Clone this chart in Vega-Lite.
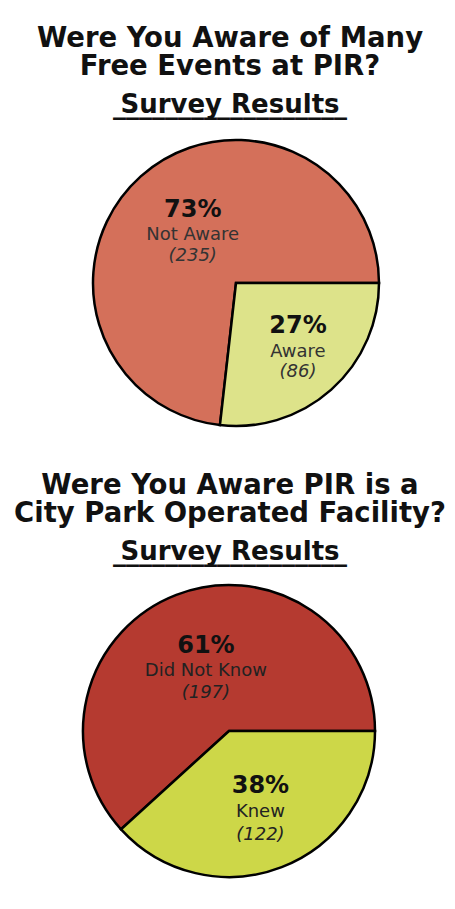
{
  "$schema": "https://vega.github.io/schema/vega-lite/v6.json",
  "padding": {"left": 14, "top": 25, "right": 0, "bottom": 0},
  "background": "white",
  "spacing": 39,
  "config": {
    "view": {"stroke": null},
    "title": {
      "font": "DejaVu Sans",
      "fontSize": 27.5,
      "fontWeight": "bold",
      "lineHeight": 27.5,
      "color": "#111",
      "anchor": "middle",
      "subtitleFont": "DejaVu Sans",
      "subtitleFontSize": 26,
      "subtitleFontWeight": "bold",
      "subtitleColor": "#111",
      "subtitleLineHeight": 1,
      "subtitlePadding": 12,
      "offset": 14
    },
    "text": {"font": "DejaVu Sans"}
  },
  "datasets": {
    "pie1": [
      {"answer": "Not Aware", "count": 235, "pct": "73%", "n": "(235)"},
      {"answer": "Aware", "count": 86, "pct": "27%", "n": "(86)"}
    ],
    "pie2": [
      {"answer": "Did Not Know", "count": 197, "pct": "61%", "n": "(197)"},
      {"answer": "Knew", "count": 122, "pct": "38%", "n": "(122)"}
    ]
  },
  "resolve": {"scale": {"color": "independent", "theta": "independent"}},
  "vconcat": [
    {
      "width": 432,
      "height": 300,
      "title": {
        "text": ["Were You Aware of Many", "Free Events at PIR?"],
        "subtitle": ["Survey Results", "__________________"],
        "dx": -6
      },
      "data": {"name": "pie1"},
      "encoding": {
        "theta": {"field": "count", "type": "quantitative", "stack": true, "scale": {"range": [1.5707963, 7.8539816]}},
        "order": {"field": "answer", "type": "ordinal", "sort": "ascending"},
        "detail": {"field": "answer", "type": "nominal"}
      },
      "layer": [
        {
          "mark": {"type": "arc", "outerRadius": 143, "stroke": "#000", "strokeWidth": 2.5},
          "encoding": {
            "color": {"field": "answer", "type": "nominal", "legend": null,
              "scale": {"domain": ["Not Aware", "Aware"], "range": ["#D4705A", "#DDE38A"]}}
          }
        },
        {
          "mark": {"type": "text", "radius": 65, "dy": -25, "fontSize": 24, "fontWeight": "bold", "color": "#111"},
          "encoding": {"text": {"condition": {"test": "datum.answer === 'Not Aware'", "field": "pct"}, "value": ""}}
        },
        {
          "mark": {"type": "text", "radius": 65, "dy": 0, "fontSize": 18, "color": "#333"},
          "encoding": {"text": {"condition": {"test": "datum.answer === 'Not Aware'", "field": "answer"}, "value": ""}}
        },
        {
          "mark": {"type": "text", "radius": 65, "dy": 21, "fontSize": 18, "fontStyle": "italic", "color": "#333"},
          "encoding": {"text": {"condition": {"test": "datum.answer === 'Not Aware'", "field": "n"}, "value": ""}}
        },
        {
          "mark": {"type": "text", "radius": 93, "dy": -26, "fontSize": 24, "fontWeight": "bold", "color": "#111"},
          "encoding": {"text": {"condition": {"test": "datum.answer === 'Aware'", "field": "pct"}, "value": ""}}
        },
        {
          "mark": {"type": "text", "radius": 93, "dy": 0, "fontSize": 18, "color": "#333"},
          "encoding": {"text": {"condition": {"test": "datum.answer === 'Aware'", "field": "answer"}, "value": ""}}
        },
        {
          "mark": {"type": "text", "radius": 93, "dy": 20, "fontSize": 18, "fontStyle": "italic", "color": "#333"},
          "encoding": {"text": {"condition": {"test": "datum.answer === 'Aware'", "field": "n"}, "value": ""}}
        }
      ]
    },
    {
      "width": 418,
      "height": 300,
      "title": {
        "text": ["Were You Aware PIR is a", "City Park Operated Facility?"],
        "subtitle": ["Survey Results", "__________________"],
        "dx": 1
      },
      "data": {"name": "pie2"},
      "encoding": {
        "theta": {"field": "count", "type": "quantitative", "stack": true, "scale": {"range": [1.5707963, 7.8539816]}},
        "order": {"field": "answer", "type": "ordinal", "sort": "descending"},
        "detail": {"field": "answer", "type": "nominal"}
      },
      "layer": [
        {
          "mark": {"type": "arc", "outerRadius": 146, "stroke": "#000", "strokeWidth": 2.5},
          "encoding": {
            "color": {"field": "answer", "type": "nominal", "legend": null,
              "scale": {"domain": ["Did Not Know", "Knew"], "range": ["#B53A30", "#CDD748"]}}
          }
        },
        {
          "mark": {"type": "text", "radius": 64, "dy": -25, "fontSize": 24, "fontWeight": "bold", "color": "#111"},
          "encoding": {"text": {"condition": {"test": "datum.answer === 'Did Not Know'", "field": "pct"}, "value": ""}}
        },
        {
          "mark": {"type": "text", "radius": 64, "dy": 0, "fontSize": 18, "color": "#222"},
          "encoding": {"text": {"condition": {"test": "datum.answer === 'Did Not Know'", "field": "answer"}, "value": ""}}
        },
        {
          "mark": {"type": "text", "radius": 64, "dy": 22, "fontSize": 18, "fontStyle": "italic", "color": "#222"},
          "encoding": {"text": {"condition": {"test": "datum.answer === 'Did Not Know'", "field": "n"}, "value": ""}}
        },
        {
          "mark": {"type": "text", "radius": 87, "dy": -26, "fontSize": 24, "fontWeight": "bold", "color": "#111"},
          "encoding": {"text": {"condition": {"test": "datum.answer === 'Knew'", "field": "pct"}, "value": ""}}
        },
        {
          "mark": {"type": "text", "radius": 87, "dy": 0, "fontSize": 18, "color": "#222"},
          "encoding": {"text": {"condition": {"test": "datum.answer === 'Knew'", "field": "answer"}, "value": ""}}
        },
        {
          "mark": {"type": "text", "radius": 87, "dy": 23, "fontSize": 18, "fontStyle": "italic", "color": "#222"},
          "encoding": {"text": {"condition": {"test": "datum.answer === 'Knew'", "field": "n"}, "value": ""}}
        }
      ]
    }
  ]
}
